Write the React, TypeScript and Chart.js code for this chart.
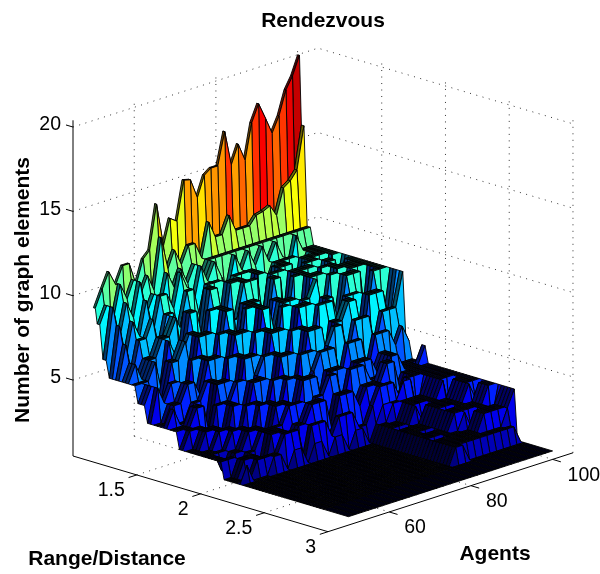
import { useEffect, useRef } from "react";
import { Chart, registerables } from "chart.js";

Chart.register(...registerables);

const titleText = "Rendezvous";
const agentLabel = "Agents";
const rangeLabel = "Range/Distance";
const heightLabel = "Number of graph elements";
const agentTicks = [60, 80, 100];
const rangeTicks = [1.5, 2, 2.5, 3];
const heightTicks = [5, 10, 15, 20];

const agents = [50, 51.7, 53.3, 55, 56.7, 58.3, 60, 61.7, 63.3, 65, 66.7, 68.3, 70, 71.7, 73.3, 75, 76.7, 78.3, 80, 81.7, 83.3, 85, 86.7, 88.3, 90, 91.7, 93.3, 95, 96.7, 98.3, 100];

const h100 = [8.9, 9.9, 10.8, 9.9, 10.9, 10.9, 9.5, 10.9, 11.3, 13.9, 11.3, 12.8, 12.5, 14.8, 14.7, 13.5, 14.7, 15, 15, 16.9, 14.8, 15.9, 14.8, 16.9, 17.9, 16.9, 15.9, 16.8, 18.2, 18.9, 20];
const h105 = [8, 9, 8, 10, 9, 10, 9, 10, 9, 12, 10, 11, 10, 11, 11, 10, 12, 11, 11, 12, 11, 11, 11, 11.5, 11.6, 11.8, 11.1, 12.6, 12.9, 13.4, 15.9];
const h110 = [6, 9, 7, 9, 8, 10, 8, 9, 8, 10, 9, 10, 9, 10, 9, 10, 10, 10, 10, 10, 10, 10, 10, 10, 10, 10, 10, 10, 10, 10, 10];
const h115 = [5, 8, 6, 8, 7, 9, 7, 9, 9, 8, 10, 9, 8, 10, 9, 10, 9, 8, 10, 9, 10, 9, 10, 9, 10, 9, 8, 10, 9, 9, 9];
const h120 = [5, 7, 5, 7, 7, 8, 6, 8, 8, 7, 9, 9, 7, 9, 9, 9, 8, 9, 9, 9, 9, 8, 8, 9, 9, 9, 9, 8, 9, 9, 9];
const h125 = [5, 6, 5, 6, 6, 7, 7, 8, 5, 8, 8, 6, 9, 9, 6, 9, 9, 9, 5, 9, 9, 6, 9, 9, 9, 6, 9, 9, 9, 9, 9];
const h130 = [5, 5, 5, 6, 4, 7, 6, 6, 7, 7, 5, 8, 8, 8, 7, 7, 9, 9, 9, 6, 9, 9, 9, 6, 6, 9, 9, 9, 6, 9, 9];
const h135 = [4, 5, 4, 4, 6, 6, 7, 4, 7, 7, 7, 5, 8, 8, 5, 8, 8, 8, 6, 9, 9, 5, 9, 9, 9, 9, 6, 9, 9, 7, 9];
const h140 = [3, 5, 4, 5, 5, 3, 6, 6, 6, 4, 7, 7, 7, 5, 8, 8, 8, 5, 8, 8, 6, 9, 9, 9, 5, 9, 9, 9, 6, 9, 9];
const h145 = [3, 3, 4, 4, 5, 5, 4, 6, 6, 6, 4, 7, 7, 7, 4, 8, 8, 6, 8, 8, 8, 5, 9, 9, 9, 6, 9, 9, 9, 9, 9];
const h150 = [3, 4, 3, 3, 4, 4, 5, 5, 3, 6, 6, 6, 4, 7, 7, 7, 5, 8, 8, 5, 8, 8, 9, 6, 9, 9, 6, 9, 9, 9, 9];
const h155 = [3, 3, 3, 4, 4, 2, 5, 5, 5, 3, 6, 6, 6, 4, 7, 7, 7, 4, 8, 8, 8, 5, 8, 8, 6, 9, 9, 9, 5, 9, 9];
const h160 = [2, 3, 3, 3, 2, 4, 4, 4, 5, 5, 3, 5, 6, 6, 6, 4, 7, 7, 7, 5, 8, 8, 8, 5, 8, 8, 8, 6, 9, 9, 9];
const h165 = [2, 2, 3, 3, 3, 2, 4, 4, 3, 5, 5, 5, 3, 6, 6, 6, 4, 7, 7, 7, 4, 7, 7, 8, 8, 5, 8, 8, 8, 6, 9];
const h170 = [2, 2, 2, 3, 3, 3, 2, 4, 4, 4, 3, 5, 5, 5, 3, 6, 6, 6, 4, 6, 7, 7, 5, 7, 7, 7, 5, 7, 7, 7, 9];
const h175 = [2, 2, 2, 2, 3, 3, 3, 2, 4, 4, 4, 3, 5, 5, 5, 4, 5, 6, 6, 6, 4, 6, 6, 6, 4, 6, 6, 6, 5, 6, 5];
const h180 = [2, 2, 1, 2, 2, 3, 3, 3, 2, 4, 4, 4, 3, 5, 5, 5, 3, 5, 5, 5, 3, 5, 5, 5, 4, 5, 5, 4, 4, 4, 4];
const h185 = [2, 2, 2, 1, 2, 2, 3, 3, 3, 3, 4, 4, 4, 2, 4, 4, 5, 5, 3, 5, 5, 5, 4, 4, 4, 5, 5, 4, 4, 4, 5];
const h190 = [1, 1, 2, 2, 2, 1, 3, 3, 3, 2, 3, 3, 4, 4, 4, 2, 4, 4, 4, 3, 4, 4, 4, 5, 5, 3, 4, 4, 4, 4, 4];
const h195 = [1, 1, 1, 2, 2, 2, 2, 3, 3, 3, 1, 3, 3, 3, 2, 3, 3, 3, 2, 2, 3, 4, 4, 4, 3, 4, 4, 4, 4, 4, 4];
const h200 = [1, 2, 1, 1, 1, 2, 2, 1, 2, 2, 1, 2, 2, 1, 2, 2, 1, 2, 2, 1, 2, 3, 3, 3, 4, 4, 2, 4, 4, 4, 4];
const h205 = [1, 1, 1, 1, 1, 1, 1, 1, 1, 1, 1, 1, 1, 1, 1, 1, 1, 1, 1, 1, 2, 2, 3, 3, 3, 3, 3, 4, 4, 4, 4];
const h210 = [1, 1, 1, 1, 1, 1, 1, 1, 1, 1, 1, 1, 1, 1, 1, 1, 1, 1, 1, 1, 2, 2, 2, 3, 3, 3, 3, 4, 4, 4, 4];
const h215 = [1, 1, 1, 1, 1, 1, 1, 1, 1, 1, 1, 1, 1, 1, 1, 1, 1, 1, 1, 1, 2, 1, 2, 3, 2, 3, 3, 4, 2, 4, 4];
const h220 = [1, 1, 1, 1, 1, 1, 1, 1, 1, 1, 1, 1, 1, 1, 1, 1, 1, 1, 1, 1, 2, 2, 2, 2, 3, 3, 3, 3, 4, 4, 4];
const h225 = [1, 1, 1, 1, 1, 1, 1, 1, 1, 1, 1, 1, 1, 1, 1, 1, 1, 1, 1, 1, 2, 2, 1, 2, 3, 2, 3, 3, 4, 3, 4];
const h230 = [1, 1, 1, 1, 1, 1, 1, 1, 1, 1, 1, 1, 1, 1, 1, 1, 1, 1, 1, 1, 2, 2, 2, 2, 3, 3, 3, 3, 3, 4, 4];
const h235 = [1, 1, 1, 1, 1, 1, 1, 1, 1, 1, 1, 1, 1, 1, 1, 1, 1, 1, 1, 1, 2, 1, 2, 2, 2, 3, 2, 3, 3, 2, 4];
const h240 = [1, 1, 1, 1, 1, 1, 1, 1, 1, 1, 1, 1, 1, 1, 1, 1, 1, 1, 1, 1, 2, 2, 2, 2, 2, 2, 3, 3, 3, 3, 4];
const h245 = [1, 1, 1, 1, 1, 1, 1, 1, 1, 1, 1, 1, 1, 1, 1, 1, 1, 1, 1, 1, 2, 2, 2, 2, 2, 2, 2, 2, 2, 3, 4];
const h250 = [1, 1, 1, 1, 1, 1, 1, 1, 1, 1, 1, 1, 1, 1, 1, 1, 1, 1, 1, 1, 2, 2, 2, 2, 2, 2, 2, 2, 2, 2, 1];
const h255 = [1, 1, 1, 1, 1, 1, 1, 1, 1, 1, 1, 1, 1, 1, 1, 1, 1, 1, 1, 1, 2, 2, 1, 1, 1, 1, 1, 1, 1, 1, 1];
const h260 = [1, 1, 1, 1, 1, 1, 1, 1, 1, 1, 1, 1, 1, 1, 1, 1, 1, 1, 1, 1, 1, 1, 1, 1, 1, 1, 1, 1, 1, 1, 1];

const ranges = [1, 1.015, 1.03, 1.05, 1.075, 1.1, 1.125, 1.15, 1.175, 1.2, 1.225, 1.25, 1.275, 1.3, 1.325, 1.35, 1.375, 1.4, 1.425, 1.45, 1.475, 1.5, 1.525, 1.55, 1.575, 1.6, 1.625, 1.65, 1.675, 1.7, 1.725, 1.75, 1.775, 1.8, 1.825, 1.85, 1.875, 1.9, 1.925, 1.95, 1.975, 2, 2.025, 2.05, 2.075, 2.1, 2.125, 2.15, 2.175, 2.2, 2.225, 2.25, 2.275, 2.3, 2.325, 2.35, 2.375, 2.4, 2.425, 2.45, 2.475, 2.5, 2.525, 2.55, 2.575, 2.6, 2.625, 2.65, 2.675, 2.7, 2.725, 2.75, 2.775, 2.8, 3];
const heightRows = [
  h100, h100, h105, h105, h110, h110, h115, h115, h120, h120,
  h125, h125, h125, h130, h130, h135, h135, h135, h140, h140,
  h145, h145, h145, h150, h150, h155, h155, h155, h160, h160,
  h165, h165, h165, h170, h170, h175, h175, h180, h180, h180,
  h185, h185, h190, h190, h190, h195, h195, h200, h205,
  h210, h210, h210, h210, h215, h220, h220, h220, h220, h220,
  h225, h230, h230, h230, h230, h235, h240, h240, h240, h240,
  h245, h250, h250, h255, h260, h260,
];

const agentLim = [45, 105];
const rangeLim = [1, 3];
const heightLim = [0.5, 20.4];
const colorLim = [1, 20.2];

// Fixed view of the 3D box, as a parallel projection onto the page.
const sx = (a: number, r: number) => 328 + (a - 45) * 4.083 - (3 - r) * 127.5;
const sy = (a: number, r: number, z: number) => 531.7 - (a - 45) * 1.315 - (3 - r) * 37.85 - (z - 0.5) * 16.87;
const pt = (a: number, r: number, z: number) => ({ x: sx(a, r), y: sy(a, r, z) });

function jet(z: number, shade: number) {
  const t = Math.min(1, Math.max(0, (z - colorLim[0]) / (colorLim[1] - colorLim[0])));
  const ch = (c: number) => Math.round(255 * shade * Math.min(1, Math.max(0, 1.5 - Math.abs(4 * t - c))));
  return `rgb(${ch(3)},${ch(2)},${ch(1)})`;
}

function lineSet(data: { x: number; y: number }[], color: string, dash: number[] = [], width = 1) {
  return { data, showLine: true, fill: false, borderColor: color, borderWidth: width, borderDash: dash, pointRadius: 0, tension: 0 };
}

function buildDatasets() {
  const sets: any[] = [];
  const [a0, a1] = agentLim;
  const [r0, r1] = rangeLim;
  const [z0, z1] = heightLim;
  const dot = [1, 5.5];
  const grid = "#333";
  for (const r of rangeTicks) {
    if (r !== r1) sets.push(lineSet([pt(a0, r, z0), pt(a1, r, z0)], grid, dot));
    sets.push(lineSet([pt(a1, r, z0), pt(a1, r, z1)], grid, dot));
  }
  for (const a of agentTicks) {
    sets.push(lineSet([pt(a, r0, z0), pt(a, r1, z0)], grid, dot));
    sets.push(lineSet([pt(a, r0, z0), pt(a, r0, z1)], grid, dot));
  }
  for (const z of heightTicks) {
    sets.push(lineSet([pt(a0, r0, z), pt(a1, r0, z), pt(a1, r1, z)], grid, dot));
  }
  sets.push(lineSet([pt(a0, r0, z0), pt(a0, r0, z1)], "#000"));
  sets.push(lineSet([pt(a0, r0, z0), pt(a0, r1, z0)], "#000"));
  sets.push(lineSet([pt(a0, r1, z0), pt(a1, r1, z0)], "#000"));
  for (const r of rangeTicks) sets.push(lineSet([pt(a0, r, z0), pt(a0 - 2, r, z0)], "#000"));
  for (const a of agentTicks) sets.push(lineSet([pt(a, r1, z0), pt(a, r1 + 0.065, z0)], "#000"));
  for (const z of heightTicks) sets.push(lineSet([pt(a0, r0, z), pt(a0, r0 - 0.055, z)], "#000"));

  for (let k = 0; k < ranges.length - 1; k++) {
    for (let i = agents.length - 2; i >= 0; i--) {
      const z00 = heightRows[k][i];
      const z01 = heightRows[k][i + 1];
      const z10 = heightRows[k + 1][i];
      const z11 = heightRows[k + 1][i + 1];
      const flatAcrossRange = z00 === z10 && z01 === z11;
      const flat = flatAcrossRange && z00 === z01;
      const shade = flat ? 0.12 : flatAcrossRange ? 0.42 : 1;
      const a = agents[i];
      const b = agents[i + 1];
      const r = ranges[k];
      const s = ranges[k + 1];
      sets.push({
        data: [pt(a, r, z00), pt(b, r, z01), pt(b, s, z11), pt(a, s, z10), pt(a, r, z00)],
        showLine: true,
        fill: "shape",
        backgroundColor: jet(z00, shade),
        borderColor: "#000",
        borderWidth: 0.9,
        borderJoinStyle: "round",
        pointRadius: 0,
        tension: 0,
      });
    }
  }
  return sets.reverse();
}

const textPlugin = {
  id: "axisText",
  afterDraw(chart: any) {
    const { ctx, scales } = chart;
    const X = (v: number) => scales.x.getPixelForValue(v);
    const Y = (v: number) => scales.y.getPixelForValue(v);
    const a0 = agentLim[0];
    const [r0, r1] = rangeLim;
    const z0 = heightLim[0];
    ctx.save();
    ctx.fillStyle = "#000";
    ctx.textBaseline = "middle";
    ctx.font = "19.5px 'Liberation Sans'";
    ctx.textAlign = "right";
    for (const z of heightTicks) ctx.fillText(String(z), X(sx(a0, r0)) - 12, Y(sy(a0, r0, z)) - 2);
    for (const r of rangeTicks) ctx.fillText(String(r), X(sx(a0, r)) - 12, Y(sy(a0, r, z0)) + 16);
    ctx.textAlign = "left";
    for (const a of agentTicks) ctx.fillText(String(a), X(sx(a, r1)) + 15, Y(sy(a, r1, z0)) + 16);
    ctx.font = "bold 21px 'Liberation Sans'";
    ctx.textAlign = "center";
    ctx.fillText(rangeLabel, 107, 559);
    ctx.fillText(agentLabel, 495, 554);
    ctx.translate(23, 290);
    ctx.rotate(-Math.PI / 2);
    ctx.fillText(heightLabel, 0, 0);
    ctx.restore();
  },
};

export default function App() {
  const ref = useRef<HTMLCanvasElement>(null);
  useEffect(() => {
    const chart = new Chart(ref.current as HTMLCanvasElement, {
      type: "scatter",
      data: { datasets: buildDatasets() },
      plugins: [textPlugin],
      options: {
        animation: false,
        responsive: false,
        events: [],
        parsing: false,
        layout: { padding: { left: 46 } },
        clip: false,
        plugins: {
          legend: { display: false },
          tooltip: { enabled: false },
          title: {
            display: true,
            text: titleText,
            color: "#000",
            font: { family: "'Liberation Sans'", size: 21, weight: "bold", lineHeight: 1.2 },
            padding: { top: 8.4, bottom: 0 },
          },
        },
        scales: {
          x: { type: "linear", display: false, min: 46, max: 600 },
          y: { type: "linear", display: false, reverse: true, min: 33.6, max: 574 },
        },
      },
    } as any);
    return () => chart.destroy();
  }, []);
  return (
    <div style={{ position: "fixed", left: 0, top: 0 }}>
      <canvas ref={ref} width={600} height={574} style={{ display: "block" }} />
    </div>
  );
}
